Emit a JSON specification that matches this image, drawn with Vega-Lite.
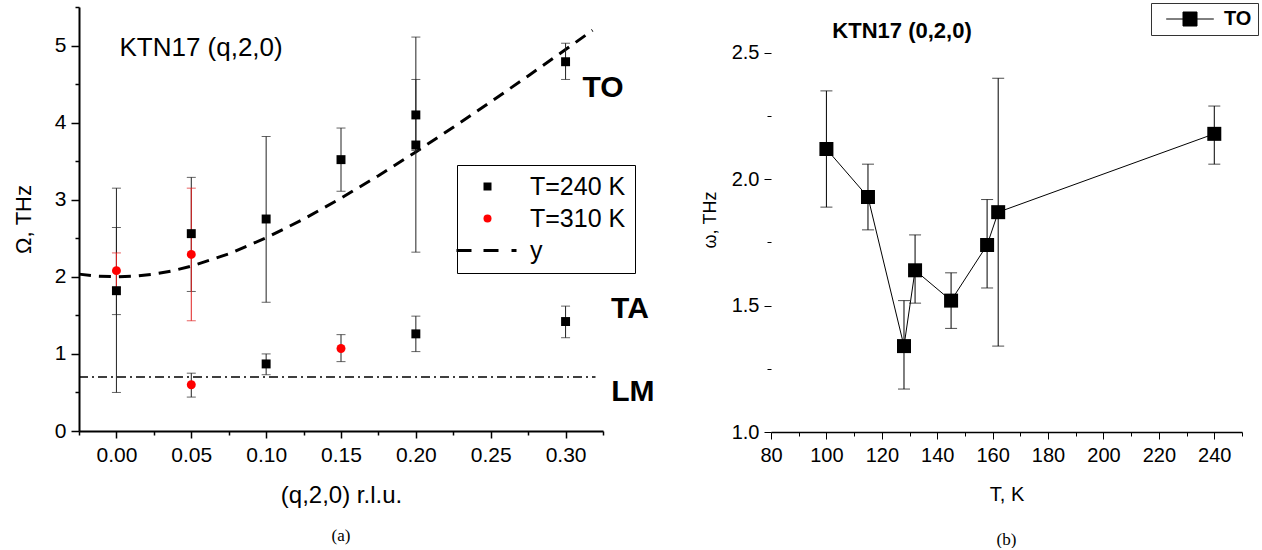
{
  "$schema": "https://vega.github.io/schema/vega-lite/v6.json",
  "padding": {"left": 12, "top": 2, "right": 0, "bottom": 0},
  "background": "white",
  "config": {
    "view": {"stroke": null},
    "font": "Liberation Sans",
    "axis": {"grid": false, "domainColor": "black", "tickColor": "black", "labelColor": "black", "titleColor": "black", "labelFont": "Liberation Sans", "titleFont": "Liberation Sans", "titleFontWeight": "normal", "labelOverlap": false, "labelFlush": false}
  },
  "datasets": {
    "curve": [
      {"q": -0.025, "w": 2.035}, {"q": -0.0125, "w": 2.009}, {"q": 0, "w": 2.0}, {"q": 0.0125, "w": 2.009},
      {"q": 0.025, "w": 2.035}, {"q": 0.0375, "w": 2.078}, {"q": 0.05, "w": 2.138}, {"q": 0.075, "w": 2.298},
      {"q": 0.1, "w": 2.505}, {"q": 0.125, "w": 2.749}, {"q": 0.15, "w": 3.02}, {"q": 0.175, "w": 3.312},
      {"q": 0.2, "w": 3.62}, {"q": 0.225, "w": 3.94}, {"q": 0.25, "w": 4.269}, {"q": 0.275, "w": 4.606},
      {"q": 0.3, "w": 4.948}, {"q": 0.318, "w": 5.198}
    ],
    "lm": [{"q": -0.025, "w": 0.7}, {"q": 0.32, "w": 0.7}],
    "pts": [
      {"q": 0, "w": 1.82, "s": "T=240 K"}, {"q": 0.05, "w": 2.56, "s": "T=240 K"},
      {"q": 0.1, "w": 2.75, "s": "T=240 K"}, {"q": 0.1, "w": 0.87, "s": "T=240 K"}, {"q": 0.15, "w": 3.52, "s": "T=240 K"},
      {"q": 0.2, "w": 4.1, "s": "T=240 K"}, {"q": 0.2, "w": 3.71, "s": "T=240 K"},
      {"q": 0.2, "w": 1.26, "s": "T=240 K"}, {"q": 0.3, "w": 4.79, "s": "T=240 K"}, {"q": 0.3, "w": 1.42, "s": "T=240 K"},
      {"q": 0, "w": 2.08, "s": "T=310 K"}, {"q": 0.05, "w": 2.29, "s": "T=310 K"}, {"q": 0.05, "w": 0.6, "s": "T=310 K"},
      {"q": 0.15, "w": 1.07, "s": "T=310 K"}
    ],
    "err": [
      {"q": 0, "lo": 0.5, "hi": 3.15, "s": "T=240 K"}, {"q": 0, "lo": 1.51, "hi": 2.64, "s": "T=240 K"},
      {"q": 0.05, "lo": 1.81, "hi": 3.29, "s": "T=240 K"}, {"q": 0.05, "lo": 0.44, "hi": 0.75, "s": "T=240 K"},
      {"q": 0.1, "lo": 1.67, "hi": 3.82, "s": "T=240 K"}, {"q": 0.1, "lo": 0.73, "hi": 1.0, "s": "T=240 K"},
      {"q": 0.15, "lo": 3.11, "hi": 3.93, "s": "T=240 K"}, {"q": 0.15, "lo": 0.9, "hi": 1.25, "s": "T=240 K"},
      {"q": 0.2, "lo": 2.32, "hi": 5.11, "s": "T=240 K"}, {"q": 0.2, "lo": 3.64, "hi": 4.56, "s": "T=240 K"},
      {"q": 0.2, "lo": 1.03, "hi": 1.49, "s": "T=240 K"}, {"q": 0.3, "lo": 4.56, "hi": 5.03, "s": "T=240 K"},
      {"q": 0.3, "lo": 1.21, "hi": 1.62, "s": "T=240 K"},
      {"q": 0, "lo": 1.86, "hi": 2.31, "s": "T=310 K"}, {"q": 0.05, "lo": 1.43, "hi": 3.15, "s": "T=310 K"}
    ],
    "bigtext": [
      {"q": 0.325, "w": 4.45, "t": "TO"}, {"q": 0.343, "w": 1.58, "t": "TA"}, {"q": 0.345, "w": 0.5, "t": "LM"}
    ],
    "lbl": [{"q": 0.002, "w": 4.97, "t": "KTN17 (q,2,0)"}],
    "to": [
      {"T": 100, "w": 2.12, "lo": 1.89, "hi": 2.35}, {"T": 115, "w": 1.93, "lo": 1.8, "hi": 2.06},
      {"T": 128, "w": 1.34, "lo": 1.17, "hi": 1.52}, {"T": 132, "w": 1.64, "lo": 1.51, "hi": 1.78},
      {"T": 145, "w": 1.52, "lo": 1.41, "hi": 1.63}, {"T": 158, "w": 1.74, "lo": 1.57, "hi": 1.92},
      {"T": 162, "w": 1.87, "lo": 1.34, "hi": 2.4}, {"T": 240, "w": 2.18, "lo": 2.06, "hi": 2.29}
    ],
    "lbl2": [{"T": 127.3, "w": 2.587, "t": "KTN17 (0,2,0)"}]
  },
  "spacing": 46,
  "resolve": {"scale": {"color": "independent", "shape": "independent"}, "legend": {"color": "independent", "shape": "independent"}},
  "hconcat": [
    {
      "width": 524,
      "height": 424,
      "title": {"text": "(a)", "orient": "bottom", "font": "Liberation Serif", "fontSize": 17, "fontWeight": "normal", "offset": 21, "anchor": "middle", "color": "black"},
      "layer": [
        {
          "data": {"name": "curve"},
          "mark": {"type": "line", "color": "black", "strokeWidth": 3, "strokeDash": [12, 8]},
          "encoding": {
            "x": {"field": "q", "type": "quantitative", "title": "(q,2,0) r.l.u.", "scale": {"domain": [-0.025, 0.325], "nice": false, "zero": false},
              "axis": {"titleFontSize": 24, "titlePadding": 18, "labelFontSize": 21, "labelPadding": 6, "domainWidth": 2, "tickWidth": 1.5, "tickCount": 50,
                "values": [-0.025, 0, 0.025, 0.05, 0.075, 0.1, 0.125, 0.15, 0.175, 0.2, 0.225, 0.25, 0.275, 0.3, 0.325],
                "format": ".3f",
                "labelExpr": "test(/0$/, datum.label) ? format(datum.value, '.2f') : ''",
                "tickSize": {"condition": {"test": "test(/0$/, format(datum.value, '.3f'))", "value": 7}, "value": 4}}},
            "y": {"field": "w", "type": "quantitative", "title": "Ω, THz", "scale": {"domain": [0, 5.5], "nice": false, "zero": false},
              "axis": {"titleFontSize": 22, "titlePadding": 19, "labelPadding": 5, "domainWidth": 2, "tickWidth": 1.5, "tickCount": 50,
                "values": [0, 0.5, 1, 1.5, 2, 2.5, 3, 3.5, 4, 4.5, 5, 5.5],
                "format": ".1f",
                "labelExpr": "test(/0$/, datum.label) ? format(datum.value, 'd') : ''",
                "labelFontSize": {"condition": {"test": "test(/0$/, format(datum.value, '.1f'))", "value": 21}, "value": 1},
                "tickSize": {"condition": {"test": "test(/0$/, format(datum.value, '.1f'))", "value": 8}, "value": 4}}}
          }
        },
        {
          "data": {"name": "lm"},
          "mark": {"type": "line", "color": "black", "strokeWidth": 1.5, "strokeDash": [9, 4, 2, 4]},
          "encoding": {"x": {"field": "q", "type": "quantitative", "title": "(q,2,0) r.l.u."}, "y": {"field": "w", "type": "quantitative", "title": "Ω, THz"}}
        },
        {
          "data": {"name": "err"},
          "transform": [{"filter": "datum.s == 'T=240 K'"}],
          "mark": {"type": "errorbar", "ticks": {"size": 9, "thickness": 1}, "color": "#222", "thickness": 1},
          "encoding": {"x": {"field": "q", "type": "quantitative", "title": "(q,2,0) r.l.u."}, "y": {"field": "lo", "type": "quantitative", "title": "Ω, THz"}, "y2": {"field": "hi"}}
        },
        {
          "data": {"name": "err"},
          "transform": [{"filter": "datum.s == 'T=310 K'"}],
          "mark": {"type": "errorbar", "ticks": {"size": 9, "thickness": 1}, "color": "#e02020", "thickness": 1},
          "encoding": {"x": {"field": "q", "type": "quantitative", "title": "(q,2,0) r.l.u."}, "y": {"field": "lo", "type": "quantitative", "title": "Ω, THz"}, "y2": {"field": "hi"}}
        },
        {
          "data": {"name": "pts"},
          "mark": {"type": "point", "filled": true, "size": 80, "opacity": 1},
          "encoding": {
            "x": {"field": "q", "type": "quantitative", "title": "(q,2,0) r.l.u."},
            "y": {"field": "w", "type": "quantitative", "title": "Ω, THz"},
            "color": {"field": "s", "type": "nominal",
              "scale": {"domain": ["T=240 K", "T=310 K", "y"], "range": ["black", "red", "black"]},
              "legend": {"orient": "none", "legendX": 378, "legendY": 158, "title": null, "labelFontSize": 25, "labelFont": "Liberation Sans", "labelColor": "black",
                "labelExpr": "datum.label + '   '",
                "strokeColor": "black", "fillColor": "white", "padding": 9, "symbolOffset": 9, "labelOffset": 30, "rowPadding": 6, "symbolSize": 64, "symbolOpacity": 1}},
            "shape": {"field": "s", "type": "nominal",
              "scale": {"domain": ["T=240 K", "T=310 K", "y"], "range": ["square", "circle", "M-7.75,-0.36H-4V0.36H-7.75Z M-1,-0.36H2.75V0.36H-1Z M6,-0.36H7.25V0.36H6Z"]}}
          }
        },
        {
          "data": {"name": "bigtext"},
          "mark": {"type": "text", "fontSize": 30, "fontWeight": "bold", "align": "center", "baseline": "middle", "color": "black"},
          "encoding": {"x": {"field": "q", "type": "quantitative", "title": "(q,2,0) r.l.u."}, "y": {"field": "w", "type": "quantitative", "title": "Ω, THz"}, "text": {"field": "t"}}
        },
        {
          "data": {"name": "lbl"},
          "mark": {"type": "text", "fontSize": 26, "align": "left", "baseline": "middle", "color": "black"},
          "encoding": {"x": {"field": "q", "type": "quantitative", "title": "(q,2,0) r.l.u."}, "y": {"field": "w", "type": "quantitative", "title": "Ω, THz"}, "text": {"field": "t"}}
        }
      ]
    },
    {
      "width": 471,
      "height": 425,
      "title": {"text": "(b)", "orient": "bottom", "font": "Liberation Serif", "fontSize": 17, "fontWeight": "normal", "offset": 28, "anchor": "middle", "color": "black"},
      "layer": [
        {
          "data": {"name": "to"},
          "mark": {"type": "line", "strokeWidth": 1},
          "encoding": {
            "x": {"field": "T", "type": "quantitative", "title": "T, K", "scale": {"domain": [80, 250], "nice": false, "zero": false},
              "axis": {"titleFontSize": 20, "titlePadding": 19, "labelFontSize": 20, "labelPadding": 6, "domainWidth": 1.5, "tickWidth": 1, "tickCount": 50,
                "values": [80, 90, 100, 110, 120, 130, 140, 150, 160, 170, 180, 190, 200, 210, 220, 230, 240, 250],
                "labelExpr": "datum.value % 20 == 0 ? datum.label : ''",
                "tickSize": {"condition": {"test": "datum.value % 20 == 0", "value": 7}, "value": 4}}},
            "y": {"field": "w", "type": "quantitative", "title": "ω, THz", "scale": {"domain": [1, 2.682], "nice": false, "zero": false},
              "axis": {"titleFontSize": 18, "titlePadding": 12, "labelFontSize": 20, "labelPadding": 5, "domain": false, "tickWidth": 1, "tickCount": 50,
                "values": [1, 1.25, 1.5, 1.75, 2, 2.25, 2.5],
                "format": ".2f",
                "labelExpr": "test(/[05]0$/, datum.label) ? format(datum.value, '.1f') : ''",
                "tickSize": {"condition": {"test": "test(/[05]0$/, format(datum.value, '.2f'))", "value": 7}, "value": 4}}},
            "color": {"datum": "TO", "scale": {"range": ["black"]},
              "legend": {"orient": "none", "legendX": 380, "legendY": -4, "title": null, "labelFontSize": 20, "labelFontWeight": "bold", "labelColor": "black",
                "strokeColor": "#333", "fillColor": "white", "padding": 6, "symbolOffset": 23, "labelOffset": 24, "symbolSize": 196,
                "symbolType": "M-3.4,0H-1M1,0H3.4M-1,-1H1V1H-1Z",
                "encode": {"symbols": {"update": {"fill": {"value": "black"}, "stroke": {"value": "black"}, "strokeWidth": {"value": 1}, "shape": {"value": "M-3.4,0H-1M1,0H3.4M-1,-1H1V1H-1Z"}, "size": {"value": 196}, "opacity": {"value": 1}}}}}}
          }
        },
        {
          "mark": {"type": "rule", "color": "black", "strokeWidth": 1.5},
          "encoding": {"x": {"datum": 80}, "y": {"datum": 1}, "y2": {"datum": 2.5}}
        },
        {
          "data": {"name": "to"},
          "mark": {"type": "errorbar", "ticks": {"size": 12, "thickness": 1}, "color": "black", "thickness": 1},
          "encoding": {"x": {"field": "T", "type": "quantitative", "title": "T, K"}, "y": {"field": "lo", "type": "quantitative", "title": "ω, THz"}, "y2": {"field": "hi"}}
        },
        {
          "data": {"name": "to"},
          "mark": {"type": "point", "shape": "square", "filled": true, "size": 196, "color": "black", "opacity": 1},
          "encoding": {"x": {"field": "T", "type": "quantitative", "title": "T, K"}, "y": {"field": "w", "type": "quantitative", "title": "ω, THz"}}
        },
        {
          "data": {"name": "lbl2"},
          "mark": {"type": "text", "fontSize": 22, "fontWeight": "bold", "align": "center", "baseline": "middle", "color": "black"},
          "encoding": {"x": {"field": "T", "type": "quantitative", "title": "T, K"}, "y": {"field": "w", "type": "quantitative", "title": "ω, THz"}, "text": {"field": "t"}}
        }
      ]
    }
  ]
}
